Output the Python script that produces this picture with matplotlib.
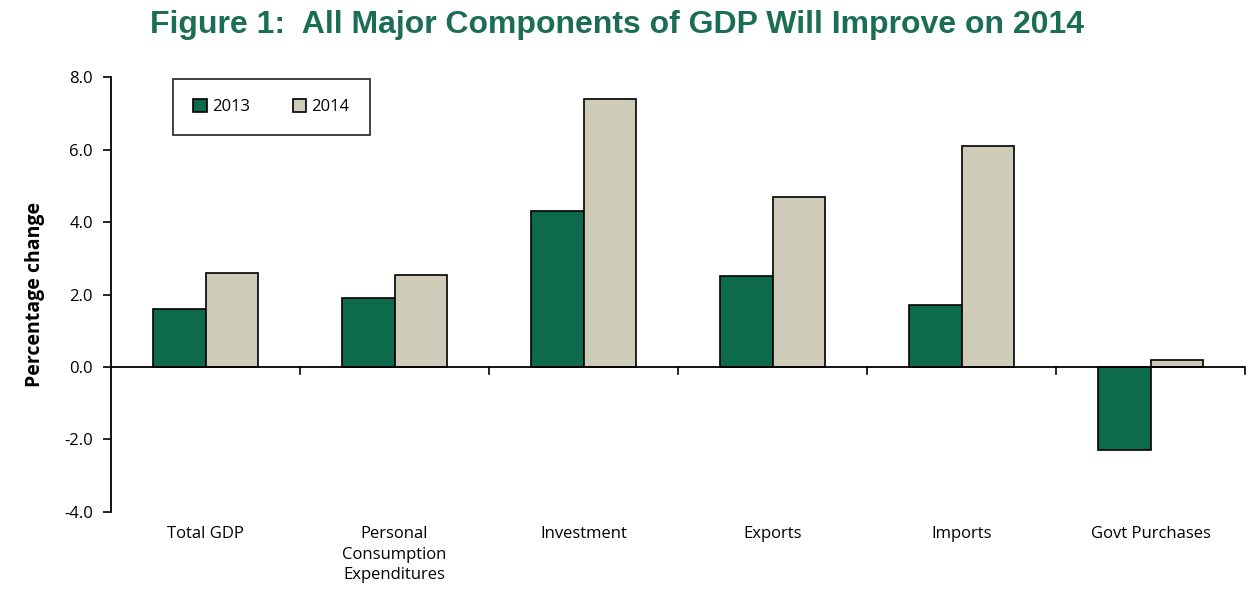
import matplotlib
matplotlib.use("Agg")
import matplotlib.pyplot as plt
import numpy as np

categories = ["Total GDP", "Personal\nConsumption\nExpenditures", "Investment",
              "Exports", "Imports", "Govt Purchases"]
vals_2013 = [1.6, 1.9, 4.3, 2.5, 1.7, -2.3]
vals_2014 = [2.6, 2.55, 7.4, 4.7, 6.1, 0.2]

green = "#0d6a4b"
beige = "#cecbb9"

plt.rcParams["font.family"] = ["Open Sans", "DejaVu Sans"]

fig = plt.figure(figsize=(12.49, 5.97), dpi=100)
ax = fig.add_axes([0.0889, 0.1424, 0.9079, 0.7286])

x = np.arange(len(categories)) + 0.5
w = 0.28
ax.bar(x - w / 2, vals_2013, w, color=green, edgecolor="black", linewidth=1.2, label="2013")
ax.bar(x + w / 2, vals_2014, w, color=beige, edgecolor="black", linewidth=1.2, label="2014")

ax.set_xlim(0, len(categories))
ax.set_ylim(-4, 8)
ax.set_yticks(np.arange(-4, 8.1, 2))
ax.set_yticklabels([f"{v:.1f}" for v in np.arange(-4, 8.1, 2)], fontsize=12)

for s in ["top", "right", "bottom"]:
    ax.spines[s].set_visible(False)
ax.spines["left"].set_linewidth(1.3)
ax.axhline(0, color="black", linewidth=1.3)
ax.tick_params(axis="y", direction="out", length=6, width=1.2, pad=7)

# category boundary ticks on the zero line
ax.set_xticks([])
for b in range(1, len(categories) + 1):
    ax.plot([b, b], [0, -0.2], color="black", linewidth=1.2, clip_on=False)
for xi, lab in zip(x, categories):
    ax.text(xi, -4.4, lab, ha="center", va="top", fontsize=12, linespacing=1.35)

ax.set_ylabel("Percentage change", fontsize=14, fontweight="bold", labelpad=14)

leg = ax.legend(loc="upper left", bbox_to_anchor=(0.055, 0.995), ncol=2, fontsize=12,
                frameon=True, fancybox=False, edgecolor="black", handlelength=0.8,
                handleheight=0.8, columnspacing=2.6, handletextpad=0.3,
                borderpad=1.2, borderaxespad=0)
leg.get_frame().set_linewidth(1.3)

fig.text(0.494, 0.958, "Figure 1:  All Major Components of GDP Will Improve on 2014",
         ha="center", va="center", fontsize=23, fontweight="bold", color="#1b6e55",
         family=["Liberation Sans", "DejaVu Sans"])

fig.savefig("out.png", dpi=100)
